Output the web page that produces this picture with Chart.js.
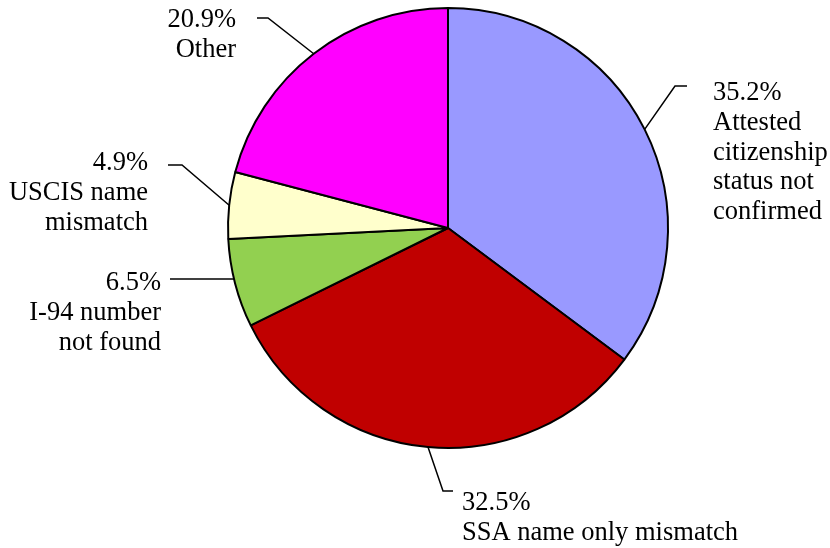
<!DOCTYPE html>
<html>
<head>
<meta charset="utf-8">
<script src="https://cdn.jsdelivr.net/npm/chart.js@4/dist/chart.umd.min.js"></script>
<style>
  html, body { margin: 0; padding: 0; background: #fff; }
  #wrap { width: 830px; height: 548px; }
</style>
</head>
<body>
<div id="wrap"><canvas id="pie" width="830" height="548"></canvas></div>
<script>
// Data
const categories = [
  ['Attested', 'citizenship', 'status not', 'confirmed'],
  ['SSA name only mismatch'],
  ['I-94 number', 'not found'],
  ['USCIS name', 'mismatch'],
  ['Other']
];
const shares = [35.2, 32.5, 6.5, 4.9, 20.9];
const sliceColors = ['#9999FF', '#C00000', '#92D050', '#FFFFCC', '#FF00FF'];

// Label placement (leader elbow, leader end, text anchor)
const labelLayout = [
  { elbow: [675, 86], end: [687, 86], x: 713, y: 100, align: 'left' },
  { elbow: [443, 491], end: [453, 491], x: 462, y: 510, align: 'left' },
  { elbow: null, end: [170, 279], x: 161, y: 290, align: 'right' },
  { elbow: [182, 165], end: [168, 165], x: 148, y: 170, align: 'right' },
  { elbow: [268, 18], end: [257, 18], x: 236, y: 27, align: 'right' }
];

const FONT = "26.5px 'Liberation Serif', 'Times New Roman', serif";
const LINE_H = 29.8;

const leaderLabels = {
  id: 'leaderLabels',
  afterDatasetsDraw(chart) {
    const ctx = chart.ctx;
    const arcs = chart.getDatasetMeta(0).data;
    ctx.save();
    ctx.strokeStyle = '#000';
    ctx.lineWidth = 1.5;
    ctx.fillStyle = '#000';
    ctx.font = FONT;
    ctx.textBaseline = 'alphabetic';
    arcs.forEach((arc, i) => {
      const p = arc.getProps(['x', 'y', 'startAngle', 'endAngle', 'outerRadius'], true);
      const L = labelLayout[i];
      let sx, sy;
      if (L.elbow) {
        const mid = (p.startAngle + p.endAngle) / 2;
        sx = p.x + Math.cos(mid) * p.outerRadius;
        sy = p.y + Math.sin(mid) * p.outerRadius;
      } else {
        // straight horizontal leader: meet the rim at the label's height
        const dy = L.end[1] - p.y;
        const dx = Math.sqrt(Math.max(p.outerRadius * p.outerRadius - dy * dy, 0));
        sx = L.end[0] < p.x ? p.x - dx : p.x + dx;
        sy = L.end[1];
      }
      ctx.beginPath();
      ctx.moveTo(sx, sy);
      if (L.elbow) ctx.lineTo(L.elbow[0], L.elbow[1]);
      ctx.lineTo(L.end[0], L.end[1]);
      ctx.stroke();
      const lines = [shares[i].toFixed(1) + '%'].concat(categories[i]);
      ctx.textAlign = L.align;
      lines.forEach((t, k) => ctx.fillText(t, L.x, L.y + k * LINE_H));
    });
    ctx.restore();
  }
};

new Chart(document.getElementById('pie'), {
  type: 'pie',
  data: {
    labels: categories.map(c => c.join(' ')),
    datasets: [{
      data: shares,
      backgroundColor: sliceColors,
      borderColor: '#000',
      borderWidth: 2
    }]
  },
  options: {
    responsive: false,
    animation: false,
    radius: 220,
    layout: { padding: { left: 226, right: 160, top: 6, bottom: 98 } },
    plugins: {
      legend: { display: false },
      tooltip: { enabled: false }
    }
  },
  plugins: [leaderLabels]
});
</script>
</body>
</html>
